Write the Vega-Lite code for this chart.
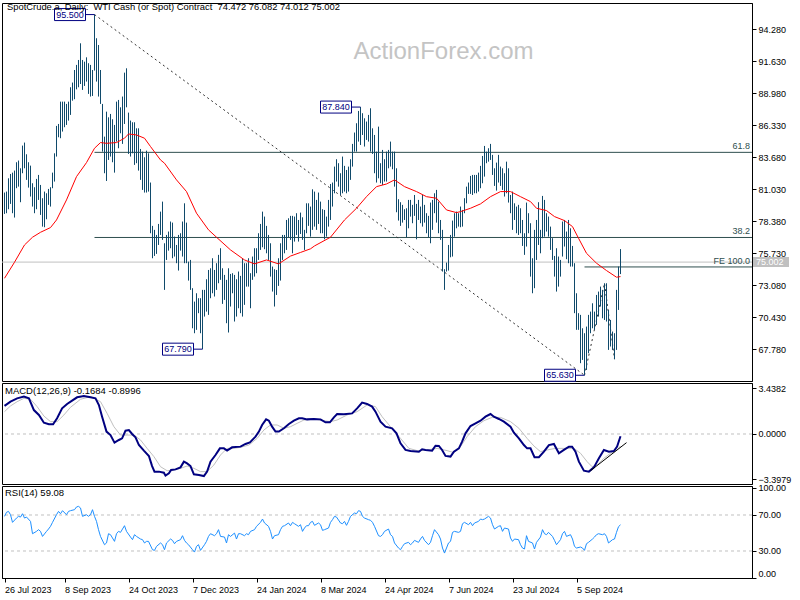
{
"$schema":"https://vega.github.io/schema/vega-lite/v6.json",
"background":"white",
"padding":{"left":0,"top":1,"right":0,"bottom":0},
"spacing":2,
"bounds":"flush",
"config":{"font":"Liberation Sans","view":{"stroke":"#000000","strokeWidth":1},"axis":{"domainColor":"#000000","tickColor":"#000000","labelColor":"#000000","labelFont":"Liberation Sans","labelFontSize":9,"grid":false,"tickSize":4,"labelPadding":2},"text":{"font":"Liberation Sans"},"title":{"anchor":"start","frame":"group","orient":"top","baseline":"alphabetic","fontSize":9.5,"fontWeight":"normal","font":"Liberation Sans","color":"#000000","dx":3}},
"datasets":{
"bars":[{"i":0,"p":80.76,"l":78.99},{"i":1,"p":80.84,"l":79.05},{"i":2,"p":81.94,"l":79.38},{"i":3,"p":82.30,"l":79.82},{"i":4,"p":82.41,"l":79.05},{"i":5,"p":82.58,"l":78.69},{"i":6,"p":83.27,"l":81.12},{"i":7,"p":83.41,"l":81.25},{"i":8,"p":82.77,"l":79.96},{"i":9,"p":84.65,"l":82.36},{"i":10,"p":84.90,"l":82.77},{"i":11,"p":83.93,"l":81.81},{"i":12,"p":83.27,"l":81.17},{"i":13,"p":82.99,"l":80.43},{"i":14,"p":81.53,"l":79.60},{"i":15,"p":81.20,"l":79.05},{"i":16,"p":81.89,"l":79.38},{"i":17,"p":82.22,"l":80.15},{"i":18,"p":81.39,"l":78.91},{"i":19,"p":80.29,"l":77.94},{"i":20,"p":80.84,"l":77.89},{"i":21,"p":80.70,"l":78.55},{"i":22,"p":81.06,"l":79.74},{"i":23,"p":81.20,"l":79.60},{"i":24,"p":82.41,"l":81.12},{"i":25,"p":84.01,"l":81.67},{"i":26,"p":86.28,"l":83.74},{"i":27,"p":86.44,"l":85.34},{"i":28,"p":88.29,"l":85.26},{"i":29,"p":88.29,"l":85.81},{"i":30,"p":88.29,"l":86.17},{"i":31,"p":88.10,"l":86.36},{"i":32,"p":88.29,"l":86.72},{"i":33,"p":89.48,"l":87.19},{"i":34,"p":89.87,"l":88.37},{"i":35,"p":90.91,"l":88.49},{"i":36,"p":91.33,"l":89.31},{"i":37,"p":91.74,"l":89.48},{"i":38,"p":93.12,"l":89.75},{"i":39,"p":91.74,"l":89.26},{"i":40,"p":91.60,"l":89.59},{"i":41,"p":91.96,"l":89.95},{"i":42,"p":91.47,"l":88.93},{"i":43,"p":91.33,"l":88.71},{"i":44,"p":90.91,"l":88.76},{"i":45,"p":95.50,"l":90.86},{"i":46,"p":93.54,"l":89.95},{"i":47,"p":92.98,"l":88.71},{"i":48,"p":90.91,"l":88.10},{"i":49,"p":88.10,"l":84.15},{"i":50,"p":85.39,"l":82.36},{"i":51,"p":87.46,"l":81.72},{"i":52,"p":86.99,"l":83.46},{"i":53,"p":87.27,"l":83.74},{"i":54,"p":86.83,"l":83.27},{"i":55,"p":86.36,"l":82.41},{"i":56,"p":88.29,"l":84.98},{"i":57,"p":88.43,"l":84.43},{"i":58,"p":87.82,"l":85.67},{"i":59,"p":88.71,"l":84.79},{"i":60,"p":90.69,"l":86.44},{"i":61,"p":91.05,"l":87.82},{"i":62,"p":87.38,"l":83.96},{"i":63,"p":86.72,"l":83.74},{"i":64,"p":86.58,"l":84.01},{"i":65,"p":86.58,"l":83.05},{"i":66,"p":86.08,"l":83.19},{"i":67,"p":86.08,"l":82.58},{"i":68,"p":84.37,"l":81.81},{"i":69,"p":84.15,"l":80.98},{"i":70,"p":83.68,"l":80.76},{"i":71,"p":84.23,"l":80.76},{"i":72,"p":84.01,"l":80.84},{"i":73,"p":81.59,"l":77.39},{"i":74,"p":78.00,"l":75.32},{"i":75,"p":77.67,"l":75.51},{"i":76,"p":77.25,"l":75.68},{"i":77,"p":78.16,"l":76.42},{"i":78,"p":79.18,"l":77.25},{"i":79,"p":80.01,"l":76.84},{"i":80,"p":76.56,"l":72.70},{"i":81,"p":77.25,"l":75.18},{"i":82,"p":77.53,"l":75.95},{"i":83,"p":78.36,"l":76.15},{"i":84,"p":78.27,"l":75.32},{"i":85,"p":77.11,"l":75.46},{"i":86,"p":76.42,"l":74.91},{"i":87,"p":77.25,"l":74.30},{"i":88,"p":77.39,"l":75.95},{"i":89,"p":78.36,"l":75.46},{"i":90,"p":79.87,"l":74.91},{"i":91,"p":78.27,"l":74.91},{"i":92,"p":75.04,"l":73.47},{"i":93,"p":75.18,"l":72.70},{"i":94,"p":72.84,"l":69.52},{"i":95,"p":71.73,"l":69.11},{"i":96,"p":72.42,"l":69.39},{"i":97,"p":72.01,"l":70.77},{"i":98,"p":72.01,"l":69.11},{"i":99,"p":72.70,"l":67.79},{"i":100,"p":72.70,"l":70.49},{"i":101,"p":73.58,"l":70.90},{"i":102,"p":74.35,"l":70.63},{"i":103,"p":74.49,"l":72.01},{"i":104,"p":75.32,"l":72.42},{"i":105,"p":74.35,"l":72.15},{"i":106,"p":74.91,"l":72.70},{"i":107,"p":75.60,"l":73.25},{"i":108,"p":76.15,"l":73.53},{"i":109,"p":74.49,"l":71.54},{"i":110,"p":73.94,"l":71.87},{"i":111,"p":73.53,"l":69.94},{"i":112,"p":74.49,"l":69.17},{"i":113,"p":74.02,"l":71.32},{"i":114,"p":74.08,"l":72.42},{"i":115,"p":73.94,"l":70.08},{"i":116,"p":73.58,"l":70.49},{"i":117,"p":74.22,"l":71.18},{"i":118,"p":73.86,"l":70.77},{"i":119,"p":75.32,"l":70.49},{"i":120,"p":74.91,"l":71.46},{"i":121,"p":74.91,"l":72.97},{"i":122,"p":75.32,"l":72.97},{"i":123,"p":74.08,"l":71.18},{"i":124,"p":75.46,"l":73.53},{"i":125,"p":76.15,"l":73.80},{"i":126,"p":76.15,"l":74.08},{"i":127,"p":77.39,"l":75.18},{"i":128,"p":78.16,"l":76.01},{"i":129,"p":79.18,"l":76.23},{"i":130,"p":78.77,"l":76.07},{"i":131,"p":78.00,"l":75.73},{"i":132,"p":77.25,"l":75.18},{"i":133,"p":76.56,"l":73.80},{"i":134,"p":74.63,"l":72.56},{"i":135,"p":74.41,"l":71.32},{"i":136,"p":74.35,"l":72.28},{"i":137,"p":75.32,"l":73.03},{"i":138,"p":76.56,"l":73.47},{"i":139,"p":77.25,"l":75.18},{"i":140,"p":77.25,"l":75.73},{"i":141,"p":78.49,"l":76.01},{"i":142,"p":78.63,"l":77.06},{"i":143,"p":78.83,"l":76.84},{"i":144,"p":78.83,"l":75.73},{"i":145,"p":78.77,"l":76.70},{"i":146,"p":79.05,"l":77.25},{"i":147,"p":78.49,"l":76.70},{"i":148,"p":79.10,"l":77.33},{"i":149,"p":78.71,"l":76.84},{"i":150,"p":77.67,"l":76.01},{"i":151,"p":79.87,"l":77.39},{"i":152,"p":79.87,"l":78.00},{"i":153,"p":79.60,"l":77.11},{"i":154,"p":81.03,"l":77.67},{"i":155,"p":80.84,"l":77.94},{"i":156,"p":80.15,"l":77.67},{"i":157,"p":80.76,"l":78.16},{"i":158,"p":80.01,"l":77.39},{"i":159,"p":79.38,"l":77.39},{"i":160,"p":79.32,"l":76.89},{"i":161,"p":78.77,"l":77.11},{"i":162,"p":80.15,"l":77.94},{"i":163,"p":81.47,"l":78.49},{"i":164,"p":81.59,"l":79.60},{"i":165,"p":82.91,"l":80.70},{"i":166,"p":83.52,"l":81.67},{"i":167,"p":83.19,"l":81.25},{"i":168,"p":82.36,"l":80.56},{"i":169,"p":83.74,"l":80.70},{"i":170,"p":82.97,"l":80.84},{"i":171,"p":82.63,"l":80.70},{"i":172,"p":82.91,"l":80.84},{"i":173,"p":83.52,"l":81.81},{"i":174,"p":84.79,"l":82.91},{"i":175,"p":85.73,"l":84.15},{"i":176,"p":86.50,"l":84.15},{"i":177,"p":87.52,"l":84.98},{"i":178,"p":87.84,"l":84.70},{"i":179,"p":87.33,"l":85.53},{"i":180,"p":86.91,"l":84.57},{"i":181,"p":86.64,"l":85.12},{"i":182,"p":87.19,"l":84.98},{"i":183,"p":87.74,"l":84.15},{"i":184,"p":86.08,"l":83.96},{"i":185,"p":85.53,"l":82.36},{"i":186,"p":84.15,"l":81.59},{"i":187,"p":86.22,"l":81.94},{"i":188,"p":83.19,"l":81.53},{"i":189,"p":84.29,"l":81.39},{"i":190,"p":83.52,"l":81.67},{"i":191,"p":84.15,"l":81.67},{"i":192,"p":84.29,"l":82.77},{"i":193,"p":84.98,"l":82.91},{"i":194,"p":84.15,"l":82.69},{"i":195,"p":84.15,"l":81.25},{"i":196,"p":82.77,"l":79.13},{"i":197,"p":80.21,"l":78.44},{"i":198,"p":79.96,"l":78.00},{"i":199,"p":79.74,"l":78.27},{"i":200,"p":79.38,"l":78.49},{"i":201,"p":79.46,"l":77.06},{"i":202,"p":80.15,"l":77.80},{"i":203,"p":80.15,"l":78.77},{"i":204,"p":79.74,"l":78.22},{"i":205,"p":80.56,"l":78.83},{"i":206,"p":79.82,"l":76.89},{"i":207,"p":80.15,"l":78.49},{"i":208,"p":79.60,"l":78.22},{"i":209,"p":80.56,"l":77.94},{"i":210,"p":79.74,"l":78.27},{"i":211,"p":79.05,"l":77.39},{"i":212,"p":78.83,"l":77.06},{"i":213,"p":79.93,"l":76.56},{"i":214,"p":80.15,"l":77.67},{"i":215,"p":80.70,"l":79.05},{"i":216,"p":80.98,"l":78.27},{"i":217,"p":80.01,"l":77.39},{"i":218,"p":78.49,"l":76.84},{"i":219,"p":77.67,"l":74.22},{"i":220,"p":74.41,"l":72.70},{"i":221,"p":74.96,"l":74.22},{"i":222,"p":76.42,"l":74.30},{"i":223,"p":77.25,"l":75.40},{"i":224,"p":78.44,"l":75.46},{"i":225,"p":79.05,"l":77.11},{"i":226,"p":79.18,"l":77.80},{"i":227,"p":79.05,"l":77.94},{"i":228,"p":79.60,"l":77.89},{"i":229,"p":79.32,"l":77.94},{"i":230,"p":80.29,"l":79.05},{"i":231,"p":81.25,"l":79.87},{"i":232,"p":81.59,"l":80.65},{"i":233,"p":82.14,"l":80.65},{"i":234,"p":82.22,"l":80.56},{"i":235,"p":82.22,"l":80.70},{"i":236,"p":82.22,"l":80.70},{"i":237,"p":82.41,"l":80.84},{"i":238,"p":82.97,"l":81.12},{"i":239,"p":83.79,"l":81.53},{"i":240,"p":84.62,"l":82.08},{"i":241,"p":84.15,"l":83.19},{"i":242,"p":84.43,"l":83.32},{"i":243,"p":84.79,"l":83.46},{"i":244,"p":83.88,"l":82.22},{"i":245,"p":82.77,"l":81.31},{"i":246,"p":83.24,"l":80.92},{"i":247,"p":83.88,"l":81.59},{"i":248,"p":82.91,"l":81.31},{"i":249,"p":82.77,"l":80.98},{"i":250,"p":82.36,"l":80.43},{"i":251,"p":83.32,"l":80.70},{"i":252,"p":82.77,"l":79.93},{"i":253,"p":80.56,"l":79.05},{"i":254,"p":80.84,"l":77.67},{"i":255,"p":79.87,"l":78.49},{"i":256,"p":79.60,"l":77.39},{"i":257,"p":79.74,"l":77.25},{"i":258,"p":79.46,"l":77.39},{"i":259,"p":78.49,"l":76.34},{"i":260,"p":77.39,"l":75.60},{"i":261,"p":79.93,"l":76.29},{"i":262,"p":79.05,"l":77.39},{"i":263,"p":78.22,"l":73.80},{"i":264,"p":75.32,"l":72.42},{"i":265,"p":77.67,"l":72.84},{"i":266,"p":78.49,"l":75.18},{"i":267,"p":79.96,"l":76.42},{"i":268,"p":77.67,"l":75.73},{"i":269,"p":80.48,"l":76.98},{"i":270,"p":80.15,"l":77.11},{"i":271,"p":79.05,"l":77.53},{"i":272,"p":78.77,"l":77.11},{"i":273,"p":77.94,"l":76.01},{"i":274,"p":76.98,"l":75.18},{"i":275,"p":75.51,"l":73.80},{"i":276,"p":76.15,"l":72.56},{"i":277,"p":75.46,"l":72.97},{"i":278,"p":75.18,"l":73.80},{"i":279,"p":78.36,"l":75.46},{"i":280,"p":78.49,"l":76.29},{"i":281,"p":77.53,"l":75.24},{"i":282,"p":78.49,"l":74.91},{"i":283,"p":77.80,"l":74.63},{"i":284,"p":76.34,"l":74.63},{"i":285,"p":74.91,"l":70.77},{"i":286,"p":72.42,"l":69.39},{"i":287,"p":70.77,"l":69.39},{"i":288,"p":70.63,"l":66.63},{"i":289,"p":69.52,"l":66.90},{"i":290,"p":69.11,"l":65.63},{"i":291,"p":69.66,"l":66.07},{"i":292,"p":70.63,"l":67.45},{"i":293,"p":70.90,"l":69.11},{"i":294,"p":71.59,"l":69.52},{"i":295,"p":70.90,"l":69.39},{"i":296,"p":72.28,"l":69.80},{"i":297,"p":72.56,"l":70.49},{"i":298,"p":72.97,"l":71.32},{"i":299,"p":72.70,"l":70.35},{"i":300,"p":73.25,"l":70.21},{"i":301,"p":73.25,"l":70.08},{"i":302,"p":71.04,"l":67.73},{"i":303,"p":70.21,"l":68.01},{"i":304,"p":69.25,"l":67.73},{"i":305,"p":69.11,"l":66.96},{"i":306,"p":72.70,"l":67.73},{"i":307,"p":74.63,"l":71.04},{"i":308,"p":76.08,"l":74.01}],
"ma":[{"i":0,"p":73.66},{"i":5,"p":74.99},{"i":10,"p":76.42},{"i":14,"p":77.06},{"i":18,"p":77.47},{"i":23,"p":77.86},{"i":26,"p":78.49},{"i":31,"p":80.15},{"i":36,"p":82.08},{"i":41,"p":83.24},{"i":45,"p":84.43},{"i":48,"p":84.90},{"i":51,"p":84.84},{"i":56,"p":84.90},{"i":60,"p":85.26},{"i":62,"p":85.61},{"i":66,"p":85.53},{"i":70,"p":85.26},{"i":73,"p":84.57},{"i":78,"p":83.46},{"i":80,"p":83.19},{"i":86,"p":81.81},{"i":91,"p":80.84},{"i":96,"p":79.05},{"i":102,"p":77.67},{"i":106,"p":77.06},{"i":113,"p":76.01},{"i":120,"p":75.18},{"i":125,"p":74.85},{"i":131,"p":75.18},{"i":137,"p":74.85},{"i":143,"p":75.5},{"i":148,"p":75.8},{"i":153,"p":76.1},{"i":155,"p":76.34},{"i":163,"p":77.06},{"i":170,"p":78.49},{"i":176,"p":79.46},{"i":181,"p":80.42},{"i":186,"p":81.25},{"i":191,"p":81.47},{"i":195,"p":81.81},{"i":200,"p":81.25},{"i":206,"p":80.84},{"i":211,"p":80.42},{"i":216,"p":80.29},{"i":221,"p":79.32},{"i":226,"p":79.10},{"i":228,"p":79.18},{"i":233,"p":79.46},{"i":238,"p":79.82},{"i":243,"p":80.42},{"i":248,"p":80.84},{"i":253,"p":80.84},{"i":258,"p":80.42},{"i":263,"p":80.01},{"i":266,"p":79.46},{"i":271,"p":79.27},{"i":275,"p":78.77},{"i":280,"p":78.44},{"i":284,"p":77.94},{"i":287,"p":76.98},{"i":291,"p":75.73},{"i":296,"p":74.91},{"i":301,"p":74.30},{"i":306,"p":73.75},{"i":308,"p":73.80}],
"fib":[{"i":45,"p":84.09,"t":"61.8"},{"i":45,"p":77.04,"t":"38.2"},{"i":290,"p":74.60,"t":"FE 100.0"}],
"trend":[{"g":1,"i":45,"p":95.5},{"g":1,"i":290,"p":65.63},{"g":2,"i":290,"p":65.63},{"g":2,"i":300,"p":73.25},{"g":2,"i":305,"p":66.96}],
"pivots":[{"i":45,"p":95.5},{"i":99,"p":67.79},{"i":178,"p":87.84},{"i":290,"p":65.63}],
"last":[{"p":75.002}],
"brand":[{"t":"ActionForex.com"}],
"macd":[{"i":0,"v":2.11},{"i":3,"v":2.43},{"i":6.3,"v":2.68},{"i":9.7,"v":2.81},{"i":12.2,"v":2.68},{"i":14.7,"v":1.80},{"i":17.2,"v":1.43},{"i":19.7,"v":0.85},{"i":22.2,"v":0.73},{"i":24.3,"v":0.73},{"i":26.3,"v":1.18},{"i":28.8,"v":1.93},{"i":31.3,"v":2.26},{"i":33.8,"v":2.51},{"i":36.3,"v":2.76},{"i":39.7,"v":2.86},{"i":43,"v":2.76},{"i":45.5,"v":2.68},{"i":47.2,"v":2.18},{"i":48.8,"v":1.30},{"i":51,"v":0.18},{"i":53,"v":-0.08},{"i":55,"v":-0.65},{"i":57.2,"v":-0.45},{"i":58.8,"v":-0.33},{"i":60.5,"v":0.25},{"i":62.2,"v":0.30},{"i":63.8,"v":0},{"i":65.5,"v":-0.25},{"i":67.2,"v":-0.83},{"i":69.7,"v":-1.25},{"i":72.2,"v":-1.65},{"i":73.8,"v":-2.41},{"i":75,"v":-2.83},{"i":77.2,"v":-2.83},{"i":79.7,"v":-2.91},{"i":80.5,"v":-3.13},{"i":82.2,"v":-2.96},{"i":83.3,"v":-2.71},{"i":85.5,"v":-2.66},{"i":88,"v":-2.51},{"i":89.7,"v":-2.08},{"i":91.3,"v":-2.21},{"i":93,"v":-2.41},{"i":94.7,"v":-3.03},{"i":97.2,"v":-3.08},{"i":99.7,"v":-3.16},{"i":101.3,"v":-2.83},{"i":103,"v":-2.08},{"i":105.5,"v":-1.58},{"i":107.7,"v":-1.08},{"i":109.7,"v":-1.08},{"i":111.3,"v":-1.25},{"i":113.8,"v":-1.00},{"i":118,"v":-0.95},{"i":120.5,"v":-0.75},{"i":122.7,"v":-0.63},{"i":125.5,"v":-0.20},{"i":127.2,"v":0.18},{"i":128.8,"v":0.68},{"i":130.8,"v":1.10},{"i":132.2,"v":1.00},{"i":133.8,"v":0.55},{"i":135.5,"v":0.18},{"i":137.2,"v":0.18},{"i":139.7,"v":0.43},{"i":142.2,"v":0.75},{"i":144.7,"v":1.00},{"i":147.2,"v":1.18},{"i":148.8,"v":1.18},{"i":151.3,"v":1.10},{"i":154.7,"v":1.13},{"i":158,"v":1.10},{"i":160.5,"v":0.88},{"i":162.7,"v":0.88},{"i":164.7,"v":1.25},{"i":166.3,"v":1.50},{"i":169.7,"v":1.48},{"i":173.8,"v":1.55},{"i":176.3,"v":1.93},{"i":178.8,"v":2.36},{"i":181.3,"v":2.26},{"i":183.8,"v":2.06},{"i":185.5,"v":1.68},{"i":188,"v":0.93},{"i":190.5,"v":0.55},{"i":193.8,"v":0.43},{"i":196,"v":0.05},{"i":198,"v":-0.70},{"i":200.5,"v":-1.20},{"i":203,"v":-1.28},{"i":207.2,"v":-1.33},{"i":208.8,"v":-1.15},{"i":210.5,"v":-1.20},{"i":213.8,"v":-1.25},{"i":215.5,"v":-0.88},{"i":217.2,"v":-0.90},{"i":218.8,"v":-1.20},{"i":220.5,"v":-1.65},{"i":223,"v":-1.70},{"i":224.7,"v":-1.33},{"i":227.2,"v":-1.08},{"i":228.8,"v":-0.58},{"i":230.5,"v":0.05},{"i":233,"v":0.60},{"i":235.5,"v":0.80},{"i":238,"v":1.00},{"i":240.5,"v":1.30},{"i":243,"v":1.50},{"i":244.7,"v":1.30},{"i":247.2,"v":1.13},{"i":249.7,"v":0.93},{"i":253,"v":0.55},{"i":254.7,"v":0.10},{"i":257.2,"v":-0.33},{"i":259.7,"v":-0.83},{"i":261.3,"v":-1.08},{"i":263,"v":-1.08},{"i":265,"v":-1.75},{"i":267.2,"v":-1.75},{"i":269.7,"v":-1.33},{"i":272.2,"v":-0.83},{"i":274.7,"v":-0.75},{"i":277.2,"v":-1.45},{"i":279.7,"v":-1.20},{"i":282.2,"v":-0.95},{"i":283.8,"v":-0.95},{"i":285.5,"v":-1.33},{"i":287.2,"v":-2.08},{"i":289.7,"v":-2.76},{"i":292.2,"v":-2.83},{"i":294.7,"v":-2.51},{"i":297.2,"v":-1.83},{"i":299.7,"v":-1.20},{"i":302.2,"v":-1.33},{"i":304.7,"v":-1.28},{"i":306.3,"v":-0.95},{"i":308,"v":-0.17}],
"signal":[{"i":0,"v":1.68},{"i":3,"v":2.11},{"i":6.3,"v":2.43},{"i":9.7,"v":2.68},{"i":13,"v":2.61},{"i":16.3,"v":2.06},{"i":19.7,"v":1.35},{"i":23,"v":0.93},{"i":26.3,"v":0.93},{"i":29.7,"v":1.43},{"i":33,"v":2.01},{"i":38,"v":2.61},{"i":43,"v":2.81},{"i":48,"v":2.43},{"i":51.3,"v":1.55},{"i":54.7,"v":0.55},{"i":58,"v":-0.08},{"i":61.3,"v":-0.08},{"i":64.7,"v":-0.08},{"i":68,"v":-0.45},{"i":71.3,"v":-1.08},{"i":74.7,"v":-1.70},{"i":78,"v":-2.46},{"i":81.3,"v":-2.76},{"i":84.7,"v":-2.71},{"i":88,"v":-2.58},{"i":91.3,"v":-2.41},{"i":94.7,"v":-2.58},{"i":98,"v":-2.83},{"i":101.3,"v":-2.83},{"i":104.7,"v":-2.33},{"i":108,"v":-1.58},{"i":111.3,"v":-1.08},{"i":114.7,"v":-1.08},{"i":118,"v":-1.00},{"i":122.2,"v":-0.83},{"i":126.3,"v":-0.33},{"i":129.7,"v":0.30},{"i":133,"v":0.68},{"i":136.3,"v":0.68},{"i":139.7,"v":0.43},{"i":143,"v":0.55},{"i":146.3,"v":0.80},{"i":149.7,"v":1.05},{"i":154.7,"v":1.13},{"i":159.7,"v":1.00},{"i":163,"v":0.93},{"i":166.3,"v":1.05},{"i":171.3,"v":1.43},{"i":176.3,"v":1.68},{"i":181.3,"v":2.18},{"i":185.5,"v":2.06},{"i":188.8,"v":1.30},{"i":193,"v":0.55},{"i":198,"v":-0.33},{"i":202.2,"v":-1.08},{"i":206.3,"v":-1.25},{"i":211.3,"v":-1.20},{"i":216.3,"v":-1.08},{"i":221.3,"v":-1.25},{"i":224.7,"v":-1.40},{"i":228,"v":-0.95},{"i":231.3,"v":-0.20},{"i":235.5,"v":0.55},{"i":239.7,"v":1.00},{"i":243.8,"v":1.25},{"i":248,"v":1.25},{"i":253,"v":0.93},{"i":257.2,"v":0.43},{"i":261.3,"v":-0.33},{"i":264.7,"v":-0.90},{"i":268,"v":-1.33},{"i":271.3,"v":-1.20},{"i":275.5,"v":-1.08},{"i":279.7,"v":-1.08},{"i":284.7,"v":-1.08},{"i":288,"v":-1.45},{"i":291.3,"v":-2.08},{"i":293.8,"v":-2.46},{"i":296.3,"v":-2.33},{"i":299.7,"v":-1.83},{"i":303,"v":-1.45},{"i":306.3,"v":-1.20},{"i":308,"v":-0.90}],
"mtrend":[{"i":293,"v":-2.76},{"i":311,"v":-0.65}],
"mlevels":[{"v":0}],
"rlevels":[{"v":30},{"v":70}],
"rsi":[{"i":0,"v":68.5},{"i":1,"v":73},{"i":2,"v":74},{"i":3,"v":70.3},{"i":4,"v":61.8},{"i":6,"v":66.6},{"i":7,"v":68.5},{"i":8,"v":67.7},{"i":9,"v":71.4},{"i":10,"v":66.6},{"i":11,"v":67.7},{"i":13,"v":62.9},{"i":14,"v":49.2},{"i":16,"v":51.8},{"i":17,"v":53.7},{"i":18,"v":51.8},{"i":19,"v":46.2},{"i":21,"v":51.8},{"i":22,"v":54.4},{"i":23,"v":57.4},{"i":24,"v":61.8},{"i":26,"v":70.3},{"i":27,"v":74.0},{"i":28,"v":71.4},{"i":29,"v":74.8},{"i":31,"v":70.3},{"i":32,"v":74.0},{"i":33,"v":74.8},{"i":35,"v":75.9},{"i":36,"v":78.9},{"i":37,"v":79.6},{"i":38,"v":77.8},{"i":39,"v":68.5},{"i":41,"v":70.3},{"i":42,"v":68.5},{"i":43,"v":70.3},{"i":44,"v":75.9},{"i":45,"v":68.5},{"i":46,"v":62.9},{"i":47,"v":53.7},{"i":48,"v":46.2},{"i":50,"v":37.0},{"i":51,"v":38.9},{"i":52,"v":49.2},{"i":53,"v":48.1},{"i":55,"v":40.7},{"i":56,"v":49.2},{"i":57,"v":51.8},{"i":58,"v":50.7},{"i":60,"v":58.1},{"i":61,"v":51.8},{"i":63,"v":45.5},{"i":64,"v":42.6},{"i":65,"v":48.1},{"i":66,"v":46.2},{"i":68,"v":43.3},{"i":69,"v":42.6},{"i":70,"v":38.9},{"i":71,"v":40.7},{"i":72,"v":40.7},{"i":74,"v":31.4},{"i":75,"v":30.7},{"i":76,"v":35.1},{"i":78,"v":38.9},{"i":79,"v":37.0},{"i":80,"v":31.4},{"i":81,"v":38.9},{"i":83,"v":43.3},{"i":84,"v":41.8},{"i":85,"v":38.1},{"i":86,"v":40.7},{"i":88,"v":42.6},{"i":89,"v":47.0},{"i":90,"v":41.8},{"i":91,"v":38.9},{"i":92,"v":37.0},{"i":94,"v":31.4},{"i":95,"v":28.8},{"i":96,"v":35.1},{"i":97,"v":37.0},{"i":98,"v":30.7},{"i":100,"v":37.0},{"i":101,"v":40.7},{"i":102,"v":46.2},{"i":103,"v":49.2},{"i":105,"v":47.0},{"i":106,"v":49.2},{"i":107,"v":53.7},{"i":108,"v":46.2},{"i":110,"v":45.5},{"i":111,"v":38.9},{"i":112,"v":48.1},{"i":113,"v":46.2},{"i":115,"v":49.9},{"i":116,"v":43.3},{"i":117,"v":49.2},{"i":118,"v":49.2},{"i":120,"v":47.0},{"i":121,"v":49.2},{"i":122,"v":48.1},{"i":123,"v":51.8},{"i":125,"v":53.7},{"i":126,"v":57.4},{"i":128,"v":61.8},{"i":129,"v":65.5},{"i":130,"v":61.1},{"i":132,"v":57.4},{"i":133,"v":51.8},{"i":134,"v":43.3},{"i":135,"v":47.0},{"i":137,"v":48.1},{"i":138,"v":53.7},{"i":139,"v":57.4},{"i":140,"v":58.1},{"i":142,"v":61.1},{"i":143,"v":58.1},{"i":144,"v":61.8},{"i":145,"v":60.3},{"i":147,"v":57.4},{"i":148,"v":59.2},{"i":149,"v":51.8},{"i":150,"v":55.5},{"i":151,"v":58.1},{"i":152,"v":58.1},{"i":153,"v":61.8},{"i":154,"v":62.9},{"i":155,"v":58.5},{"i":157,"v":61.1},{"i":158,"v":59.2},{"i":159,"v":52.9},{"i":160,"v":53.7},{"i":162,"v":55.5},{"i":163,"v":61.8},{"i":164,"v":64.8},{"i":165,"v":68.5},{"i":166,"v":67.7},{"i":168,"v":61.1},{"i":169,"v":60.3},{"i":170,"v":62.9},{"i":171,"v":58.5},{"i":172,"v":62.9},{"i":173,"v":68.5},{"i":175,"v":72.2},{"i":176,"v":71.4},{"i":177,"v":74.8},{"i":178,"v":74.0},{"i":179,"v":68.5},{"i":180,"v":66.6},{"i":182,"v":64.8},{"i":183,"v":64.1},{"i":184,"v":61.8},{"i":185,"v":57.4},{"i":187,"v":47.0},{"i":188,"v":46.2},{"i":189,"v":48.1},{"i":190,"v":51.8},{"i":192,"v":54.4},{"i":193,"v":48.1},{"i":194,"v":46.2},{"i":195,"v":38.9},{"i":197,"v":33.3},{"i":198,"v":31.4},{"i":199,"v":35.1},{"i":200,"v":38.1},{"i":202,"v":39.6},{"i":203,"v":37.0},{"i":204,"v":38.9},{"i":205,"v":41.8},{"i":207,"v":39.6},{"i":208,"v":43.3},{"i":209,"v":46.2},{"i":210,"v":41.8},{"i":212,"v":37.0},{"i":213,"v":39.6},{"i":214,"v":47.0},{"i":215,"v":53.7},{"i":217,"v":48.1},{"i":218,"v":43.3},{"i":219,"v":33.3},{"i":220,"v":27.7},{"i":222,"v":38.9},{"i":223,"v":40.7},{"i":224,"v":50.7},{"i":225,"v":51.8},{"i":227,"v":50.7},{"i":228,"v":51.8},{"i":229,"v":60.3},{"i":230,"v":61.8},{"i":232,"v":59.2},{"i":233,"v":61.8},{"i":234,"v":58.1},{"i":235,"v":61.1},{"i":237,"v":62.9},{"i":238,"v":65.5},{"i":239,"v":64.8},{"i":240,"v":65.5},{"i":242,"v":68.5},{"i":243,"v":66.6},{"i":244,"v":59.2},{"i":245,"v":54.4},{"i":247,"v":57.4},{"i":248,"v":58.1},{"i":249,"v":51.8},{"i":250,"v":55.5},{"i":252,"v":54.4},{"i":253,"v":44.4},{"i":254,"v":40.7},{"i":255,"v":43.3},{"i":257,"v":42.6},{"i":258,"v":37.0},{"i":259,"v":33.3},{"i":260,"v":32.2},{"i":261,"v":47.0},{"i":262,"v":40.7},{"i":264,"v":38.9},{"i":265,"v":32.2},{"i":266,"v":39.6},{"i":268,"v":45.5},{"i":269,"v":53.7},{"i":270,"v":49.2},{"i":271,"v":48.1},{"i":272,"v":50.7},{"i":274,"v":46.2},{"i":275,"v":41.8},{"i":276,"v":37.0},{"i":278,"v":42.6},{"i":279,"v":49.2},{"i":280,"v":51.8},{"i":281,"v":46.2},{"i":283,"v":48.1},{"i":284,"v":43.3},{"i":285,"v":35.1},{"i":286,"v":33.3},{"i":288,"v":34.4},{"i":289,"v":33.3},{"i":290,"v":30.7},{"i":291,"v":38.1},{"i":292,"v":39.6},{"i":294,"v":43.3},{"i":295,"v":45.5},{"i":296,"v":48.1},{"i":297,"v":49.2},{"i":299,"v":48.1},{"i":300,"v":49.2},{"i":301,"v":46.2},{"i":302,"v":38.9},{"i":304,"v":42.6},{"i":305,"v":43.3},{"i":306,"v":50.7},{"i":307,"v":57.0},{"i":308,"v":59.08}]
},
"vconcat":[
{
"width":750,"height":378,
"title":{"text":"SpotCrude.a, Daily:\u00a0\u00a0WTI Cash (or Spot) Contract\u00a0\u00a074.472 76.082 74.012 75.002","offset":-9,"fontSize":9.4,"dx":5},
"layer":[
{"data":{"name":"last"},"mark":{"type":"rule","color":"#C0C0C0","strokeWidth":1},"encoding":{"y":{"field":"p","type":"quantitative","scale":{"domain":[65.154,96.458],"nice":false,"zero":false},"axis":{"orient":"right","title":null,"values":[67.78,70.43,73.08,75.73,78.38,81.03,83.68,86.33,88.98,91.63,94.28],"format":".3f","labelAlign":"left","labelBaseline":"middle"}}}},
{"data":{"name":"fib"},"mark":{"type":"rule","color":"#2F4F4F","strokeWidth":1},"encoding":{"x":{"field":"i","type":"quantitative","scale":{"domain":[-1.25,373.75],"nice":false,"zero":false},"axis":null},"x2":{"datum":373.75},"y":{"field":"p","type":"quantitative","scale":{"domain":[65.154,96.458],"nice":false,"zero":false},"axis":{"orient":"right","title":null,"values":[67.78,70.43,73.08,75.73,78.38,81.03,83.68,86.33,88.98,91.63,94.28],"format":".3f","labelAlign":"left","labelBaseline":"middle"}}}},
{"data":{"name":"fib"},"mark":{"type":"text","align":"right","baseline":"alphabetic","dx":-2,"dy":-3,"fontSize":9,"color":"#2F4F4F"},"encoding":{"x":{"datum":373.75,"type":"quantitative","scale":{"domain":[-1.25,373.75],"nice":false,"zero":false},"axis":null},"y":{"field":"p","type":"quantitative","scale":{"domain":[65.154,96.458],"nice":false,"zero":false},"axis":{"orient":"right","title":null,"values":[67.78,70.43,73.08,75.73,78.38,81.03,83.68,86.33,88.98,91.63,94.28],"format":".3f","labelAlign":"left","labelBaseline":"middle"}},"text":{"field":"t"}}},
{"data":{"name":"trend"},"mark":{"type":"line","color":"#333333","strokeWidth":1,"strokeDash":[2,3]},"encoding":{"x":{"field":"i","type":"quantitative","scale":{"domain":[-1.25,373.75],"nice":false,"zero":false},"axis":null},"y":{"field":"p","type":"quantitative","scale":{"domain":[65.154,96.458],"nice":false,"zero":false},"axis":{"orient":"right","title":null,"values":[67.78,70.43,73.08,75.73,78.38,81.03,83.68,86.33,88.98,91.63,94.28],"format":".3f","labelAlign":"left","labelBaseline":"middle"}},"detail":{"field":"g"}}},
{"data":{"name":"brand"},"mark":{"type":"text","align":"left","baseline":"middle","fontSize":24,"color":"#C4C4C4"},"encoding":{"x":{"datum":174.5,"type":"quantitative","scale":{"domain":[-1.25,373.75],"nice":false,"zero":false},"axis":null},"y":{"datum":92.4,"type":"quantitative","scale":{"domain":[65.154,96.458],"nice":false,"zero":false},"axis":{"orient":"right","title":null,"values":[67.78,70.43,73.08,75.73,78.38,81.03,83.68,86.33,88.98,91.63,94.28],"format":".3f","labelAlign":"left","labelBaseline":"middle"}},"text":{"field":"t"}}},
{"data":{"name":"bars"},"mark":{"type":"rule","color":"#104A6B","strokeWidth":1},"encoding":{"x":{"field":"i","type":"quantitative","scale":{"domain":[-1.25,373.75],"nice":false,"zero":false},"axis":null},"y":{"field":"p","type":"quantitative","scale":{"domain":[65.154,96.458],"nice":false,"zero":false},"axis":{"orient":"right","title":null,"values":[67.78,70.43,73.08,75.73,78.38,81.03,83.68,86.33,88.98,91.63,94.28],"format":".3f","labelAlign":"left","labelBaseline":"middle"}},"y2":{"field":"l"}}},
{"data":{"name":"ma"},"mark":{"type":"line","color":"#FF0000","strokeWidth":1},"encoding":{"x":{"field":"i","type":"quantitative","scale":{"domain":[-1.25,373.75],"nice":false,"zero":false},"axis":null},"y":{"field":"p","type":"quantitative","scale":{"domain":[65.154,96.458],"nice":false,"zero":false},"axis":{"orient":"right","title":null,"values":[67.78,70.43,73.08,75.73,78.38,81.03,83.68,86.33,88.98,91.63,94.28],"format":".3f","labelAlign":"left","labelBaseline":"middle"}}}},
{"data":{"name":"pivots"},"mark":{"type":"point","shape":"M-40,-6H-9V6H-40Z M-9,0H0","size":4,"filled":true,"fill":"#FFFFFF","stroke":"#000080","strokeWidth":1,"opacity":1},"encoding":{"x":{"field":"i","type":"quantitative","scale":{"domain":[-1.25,373.75],"nice":false,"zero":false},"axis":null},"y":{"field":"p","type":"quantitative","scale":{"domain":[65.154,96.458],"nice":false,"zero":false},"axis":{"orient":"right","title":null,"values":[67.78,70.43,73.08,75.73,78.38,81.03,83.68,86.33,88.98,91.63,94.28],"format":".3f","labelAlign":"left","labelBaseline":"middle"}}}},
{"data":{"name":"pivots"},"mark":{"type":"text","align":"center","baseline":"middle","dx":-24.5,"fontSize":9,"color":"#000080"},"encoding":{"x":{"field":"i","type":"quantitative","scale":{"domain":[-1.25,373.75],"nice":false,"zero":false},"axis":null},"y":{"field":"p","type":"quantitative","scale":{"domain":[65.154,96.458],"nice":false,"zero":false},"axis":{"orient":"right","title":null,"values":[67.78,70.43,73.08,75.73,78.38,81.03,83.68,86.33,88.98,91.63,94.28],"format":".3f","labelAlign":"left","labelBaseline":"middle"}},"text":{"field":"p","type":"quantitative","format":".3f"}}},
{"data":{"name":"last"},"mark":{"type":"point","shape":"M1,-5H37V5H1Z","size":4,"filled":true,"fill":"#C0C0C0","strokeWidth":0,"opacity":1},"encoding":{"x":{"datum":373.75,"type":"quantitative","scale":{"domain":[-1.25,373.75],"nice":false,"zero":false},"axis":null},"y":{"field":"p","type":"quantitative","scale":{"domain":[65.154,96.458],"nice":false,"zero":false},"axis":{"orient":"right","title":null,"values":[67.78,70.43,73.08,75.73,78.38,81.03,83.68,86.33,88.98,91.63,94.28],"format":".3f","labelAlign":"left","labelBaseline":"middle"}}}},
{"data":{"name":"last"},"mark":{"type":"text","align":"left","baseline":"middle","dx":4,"fontSize":9,"color":"#FFFFFF"},"encoding":{"x":{"datum":373.75,"type":"quantitative","scale":{"domain":[-1.25,373.75],"nice":false,"zero":false},"axis":null},"y":{"field":"p","type":"quantitative","scale":{"domain":[65.154,96.458],"nice":false,"zero":false},"axis":{"orient":"right","title":null,"values":[67.78,70.43,73.08,75.73,78.38,81.03,83.68,86.33,88.98,91.63,94.28],"format":".3f","labelAlign":"left","labelBaseline":"middle"}},"text":{"field":"p","type":"quantitative","format":".3f"}}}
]
},
{
"width":750,"height":101,
"title":{"text":"MACD(12,26,9) -0.1684 -0.8996","offset":-12},
"layer":[
{"data":{"name":"mlevels"},"mark":{"type":"rule","color":"#C0C0C0","strokeWidth":1,"strokeDash":[3,3]},"encoding":{"y":{"field":"v","type":"quantitative","scale":{"domain":[-3.76,3.835],"nice":false,"zero":false},"axis":{"orient":"right","title":null,"values":[-3.3979,0,3.4382],"format":".4f","labelAlign":"left","labelBaseline":"middle"}}}},
{"data":{"name":"signal"},"mark":{"type":"line","color":"#C0C0C0","strokeWidth":1},"encoding":{"x":{"field":"i","type":"quantitative","scale":{"domain":[-1.25,373.75],"nice":false,"zero":false},"axis":null},"y":{"field":"v","type":"quantitative","scale":{"domain":[-3.76,3.835],"nice":false,"zero":false},"axis":{"orient":"right","title":null,"values":[-3.3979,0,3.4382],"format":".4f","labelAlign":"left","labelBaseline":"middle"}}}},
{"data":{"name":"macd"},"mark":{"type":"line","color":"#000080","strokeWidth":2},"encoding":{"x":{"field":"i","type":"quantitative","scale":{"domain":[-1.25,373.75],"nice":false,"zero":false},"axis":null},"y":{"field":"v","type":"quantitative","scale":{"domain":[-3.76,3.835],"nice":false,"zero":false},"axis":{"orient":"right","title":null,"values":[-3.3979,0,3.4382],"format":".4f","labelAlign":"left","labelBaseline":"middle"}}}},
{"data":{"name":"mtrend"},"mark":{"type":"line","color":"#000000","strokeWidth":1},"encoding":{"x":{"field":"i","type":"quantitative","scale":{"domain":[-1.25,373.75],"nice":false,"zero":false},"axis":null},"y":{"field":"v","type":"quantitative","scale":{"domain":[-3.76,3.835],"nice":false,"zero":false},"axis":{"orient":"right","title":null,"values":[-3.3979,0,3.4382],"format":".4f","labelAlign":"left","labelBaseline":"middle"}}}}
]
},
{
"width":750,"height":92,
"title":{"text":"RSI(14) 59.08","offset":-14},
"layer":[
{"data":{"name":"rlevels"},"mark":{"type":"rule","color":"#C0C0C0","strokeWidth":1,"strokeDash":[3,3]},"encoding":{"y":{"field":"v","type":"quantitative","scale":{"domain":[0,102.2],"nice":false,"zero":false},"axis":{"orient":"right","title":null,"values":[0,30,70,100],"format":".2f","labelAlign":"left","labelFlush":true}}}},
{"data":{"name":"rsi"},"mark":{"type":"line","color":"#1E90FF","strokeWidth":1},"encoding":{"x":{"field":"i","type":"quantitative","scale":{"domain":[-1.25,373.75],"nice":false,"zero":false},"axis":{"orient":"bottom","title":null,"values":[0,30,62,94,126,158,190,222,254,286],"labelAlign":"left","labelBaseline":"top","labelPadding":3,"labelFlush":false,"labelOverlap":false,"labelBound":false,"labelExpr":"datum.value==0?'26 Jul 2023':datum.value==30?'8 Sep 2023':datum.value==62?'24 Oct 2023':datum.value==94?'7 Dec 2023':datum.value==126?'24 Jan 2024':datum.value==158?'8 Mar 2024':datum.value==190?'24 Apr 2024':datum.value==222?'7 Jun 2024':datum.value==254?'23 Jul 2024':'5 Sep 2024'"}},"y":{"field":"v","type":"quantitative","scale":{"domain":[0,102.2],"nice":false,"zero":false},"axis":{"orient":"right","title":null,"values":[0,30,70,100],"format":".2f","labelAlign":"left","labelFlush":true}}}}
]
}
]
}
